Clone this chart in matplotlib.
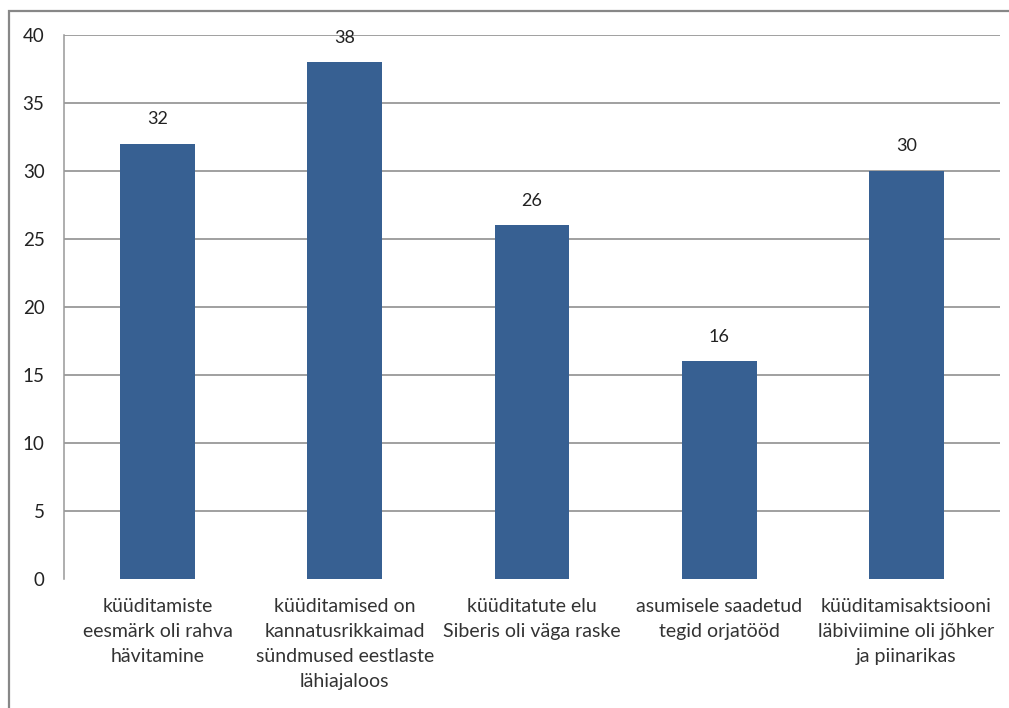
import matplotlib.pyplot as plt
from matplotlib.patches import Rectangle

plt.rcParams['font.family'] = ['Lato', 'DejaVu Sans']

categories = ['küüditamiste\neesmärk oli rahva\nhävitamine',
              'küüditamised on\nkannatusrikkaimad\nsündmused eestlaste\nlähiajaloos',
              'küüditatute elu\nSiberis oli väga raske',
              'asumisele saadetud\ntegid orjatööd',
              'küüditamisaktsiooni\nläbiviimine oli jõhker\nja piinarikas']
values = [32, 38, 26, 16, 30]

fig = plt.figure(figsize=(10.09, 7.08), dpi=100)
ax = fig.add_axes([0.0634, 0.1822, 0.9276, 0.7684])

x = range(len(values))
bars = ax.bar(x, values, width=0.4, color='#376092', zorder=3)
for i, v in enumerate(values):
    ax.annotate(str(v), (i, v), xytext=(0, 12), textcoords='offset points',
                ha='center', va='bottom', fontsize=13, color='#222222')

ax.set_ylim(0, 40)
ax.set_xlim(-0.5, 4.5)
ax.set_yticks(range(0, 41, 5))
ax.set_xticks(list(x))
ax.set_xticklabels(categories, fontsize=14, color='#333333', linespacing=1.57)
ax.tick_params(axis='y', length=0, pad=14, labelsize=13.5, labelcolor='#222222')
ax.tick_params(axis='x', length=0, pad=14)
for yv in range(5, 41, 5):
    ax.axhline(yv, color='#868686', linewidth=1.1, zorder=1)

for s in ['top', 'right', 'bottom']:
    ax.spines[s].set_visible(False)
ax.spines['left'].set_color('#999999')
ax.spines['left'].set_linewidth(1.1)

# outer chart border
fig.patches.append(Rectangle((9 / 1009, -0.1), 1.2, 1 - 11 / 708 + 0.1,
                             transform=fig.transFigure, fill=False,
                             edgecolor='#878787', linewidth=1.6))

fig.savefig('out.png', dpi=100)
